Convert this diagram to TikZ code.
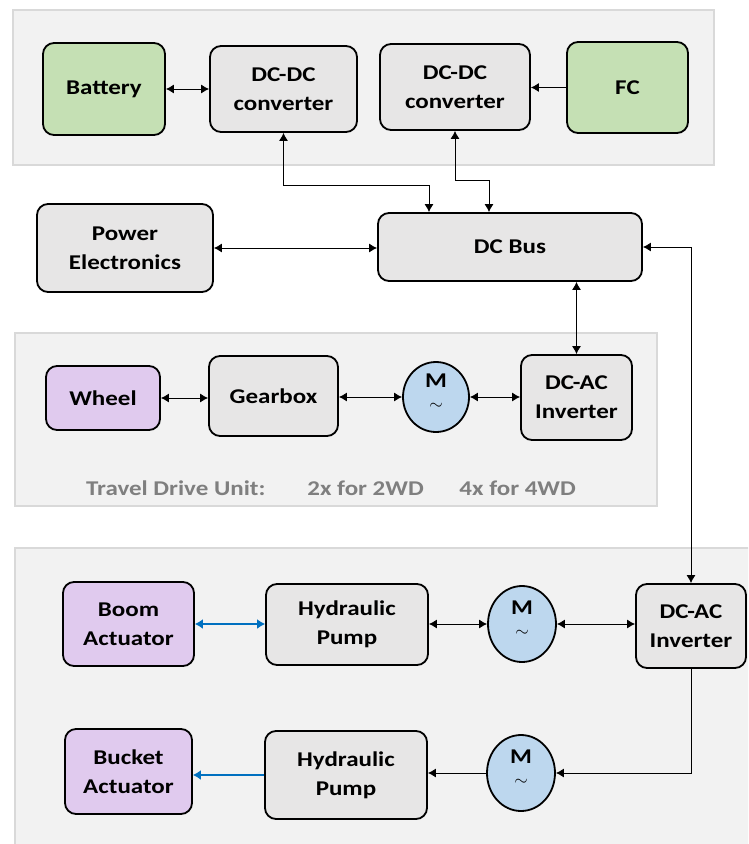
\documentclass[tikz,border=0pt]{standalone}
\usepackage{fontspec}
\setmainfont{Carlito}[FakeStretch=1.19]
\usepackage{tikz}
\usetikzlibrary{arrows.meta,positioning,shapes.geometric}
\definecolor{panelgray}{HTML}{F2F2F2}
\definecolor{panelline}{HTML}{D9D9D9}
\definecolor{boxgray}{HTML}{E7E6E6}
\definecolor{srcgreen}{HTML}{C5E0B4}
\definecolor{actpurple}{HTML}{E0CAEE}
\definecolor{motblue}{HTML}{BDD7EE}
\definecolor{hydblue}{HTML}{0070C0}
\definecolor{notegray}{HTML}{7F7F7F}

\begin{document}
\begin{tikzpicture}[x=1pt, y=-1pt,
  blk/.style={draw=black, line width=1.8pt, rounded corners=11pt, fill=boxgray,
    align=center, inner sep=0pt, font=\bfseries\fontsize{21}{29}\selectfont},
  src/.style={blk, fill=srcgreen},
  act/.style={blk, fill=actpurple},
  mot/.style={draw=black, line width=1.8pt, ellipse, fill=motblue, align=center, inner sep=0pt},
  panel/.style={fill=panelgray, draw=panelline, line width=2pt},
  link/.style={draw=black, line width=0.9pt, {Latex[length=8pt,width=9pt]}-{Latex[length=8pt,width=9pt]}},
  linkto/.style={draw=black, line width=0.9pt, -{Latex[length=8pt,width=9pt]}},
  hyd/.style={draw=hydblue, line width=2.6pt, {Latex[length=8pt,width=10pt]}-{Latex[length=8pt,width=10pt]}},
  hydto/.style={draw=hydblue, line width=2.6pt, -{Latex[length=8pt,width=10pt]}}]
\useasboundingbox (0,0) rectangle (748,844);
\clip (0,0) rectangle (748,844);
\fill[white] (0,0) rectangle (748,844);
%%%%% Panels %%%%%
\draw[panel] (13,10) rectangle (714,165);
\draw[panel] (15,333) rectangle (657,506);
\draw[panel] (15,548) rectangle (770,870);
\node[text=notegray, font=\bfseries\fontsize{21}{24}\selectfont] (tdu) at (331,488)
  {Travel Drive Unit:\hspace{2em}2x for 2WD\hspace{1.7em}4x for 4WD};
%%%%% Sources %%%%%
\node[src, minimum width=122pt, minimum height=92pt] (battery) at (104,89) {Battery};
\node[blk, minimum width=147pt, minimum height=86pt] (dcdcA) at (283.5,89) {DC-DC\\converter};
\node[blk, minimum width=150pt, minimum height=86pt] (dcdcB) at (455,87) {DC-DC\\converter};
\node[src, minimum width=121pt, minimum height=91pt] (fc) at (627.5,87.5) {FC};
\node[blk, minimum width=176pt, minimum height=88pt] (pe) at (125,248) {Power\\Electronics};
\node[blk, minimum width=264pt, minimum height=68pt] (bus) at (510,247) {DC Bus};
%%%%% Travel drive %%%%%
\node[act, minimum width=114pt, minimum height=64pt] (wheel) at (103,398) {Wheel};
\node[blk, minimum width=129pt, minimum height=80pt] (gear) at (273.5,396) {Gearbox};
\node[mot, minimum width=66pt, minimum height=70pt] (motA) at (436,397) {};
\node[blk, minimum width=111pt, minimum height=85pt] (invA) at (576.5,397.5) {DC-AC\\Inverter};
%%%%% Work hydraulics %%%%%
\node[act, minimum width=131pt, minimum height=84pt] (boom) at (128.5,624) {Boom\\Actuator};
\node[blk, minimum width=162pt, minimum height=81pt] (pumpA) at (347,624.5) {Hydraulic\\Pump};
\node[mot, minimum width=68pt, minimum height=76pt] (motB) at (522,624) {};
\node[blk, minimum width=110pt, minimum height=84pt] (invB) at (691,626) {DC-AC\\Inverter};
\node[act, minimum width=127pt, minimum height=85pt] (bucket) at (128.5,771.5) {Bucket\\Actuator};
\node[blk, minimum width=162pt, minimum height=88pt] (pumpB) at (346,775) {Hydraulic\\Pump};
\node[mot, minimum width=68pt, minimum height=76pt] (motC) at (521,773) {};
%%%%% Motor labels %%%%%
\foreach \m in {motA,motB,motC}{
  \node[inner sep=0pt, font=\bfseries\fontsize{21}{21}\selectfont] at ([yshift=16pt]\m.center) {M};
  \node[inner sep=0pt, font=\fontsize{18}{18}\selectfont] at ([yshift=-9pt]\m.center) {$\sim$};
}
%%%%% Connectors %%%%%
\draw[link] (battery.east) -- (battery.east -| dcdcA.west);
\draw[linkto] (fc.west) -- (fc.west -| dcdcB.east);
\draw[link] (dcdcA.south) -- ++(0,53) -| ([xshift=-81pt]bus.north);
\draw[link] (dcdcB.south) -- ++(0,50) -| ([xshift=-21pt]bus.north);
\draw[link] (pe.east) -- (pe.east -| bus.west);
\draw[link] (bus.east) -| (invB.north);
\draw[link] (invA.north |- bus.south) -- (invA.north);
\draw[link] (wheel.east) -- (wheel.east -| gear.west);
\draw[link] (motA.west -| gear.east) -- (motA.west);
\draw[link] (motA.east) -- (motA.east -| invA.west);
\draw[hyd] (boom.east) -- (boom.east -| pumpA.west);
\draw[link] (motB.west -| pumpA.east) -- (motB.west);
\draw[link] (motB.east) -- (motB.east -| invB.west);
\draw[linkto] (invB.south) |- (motC.east);
\draw[linkto] (motC.west) -- (motC.west -| pumpB.east);
\draw[hydto] (pumpB.west) -- (pumpB.west -| bucket.east);
\end{tikzpicture}
\end{document}
